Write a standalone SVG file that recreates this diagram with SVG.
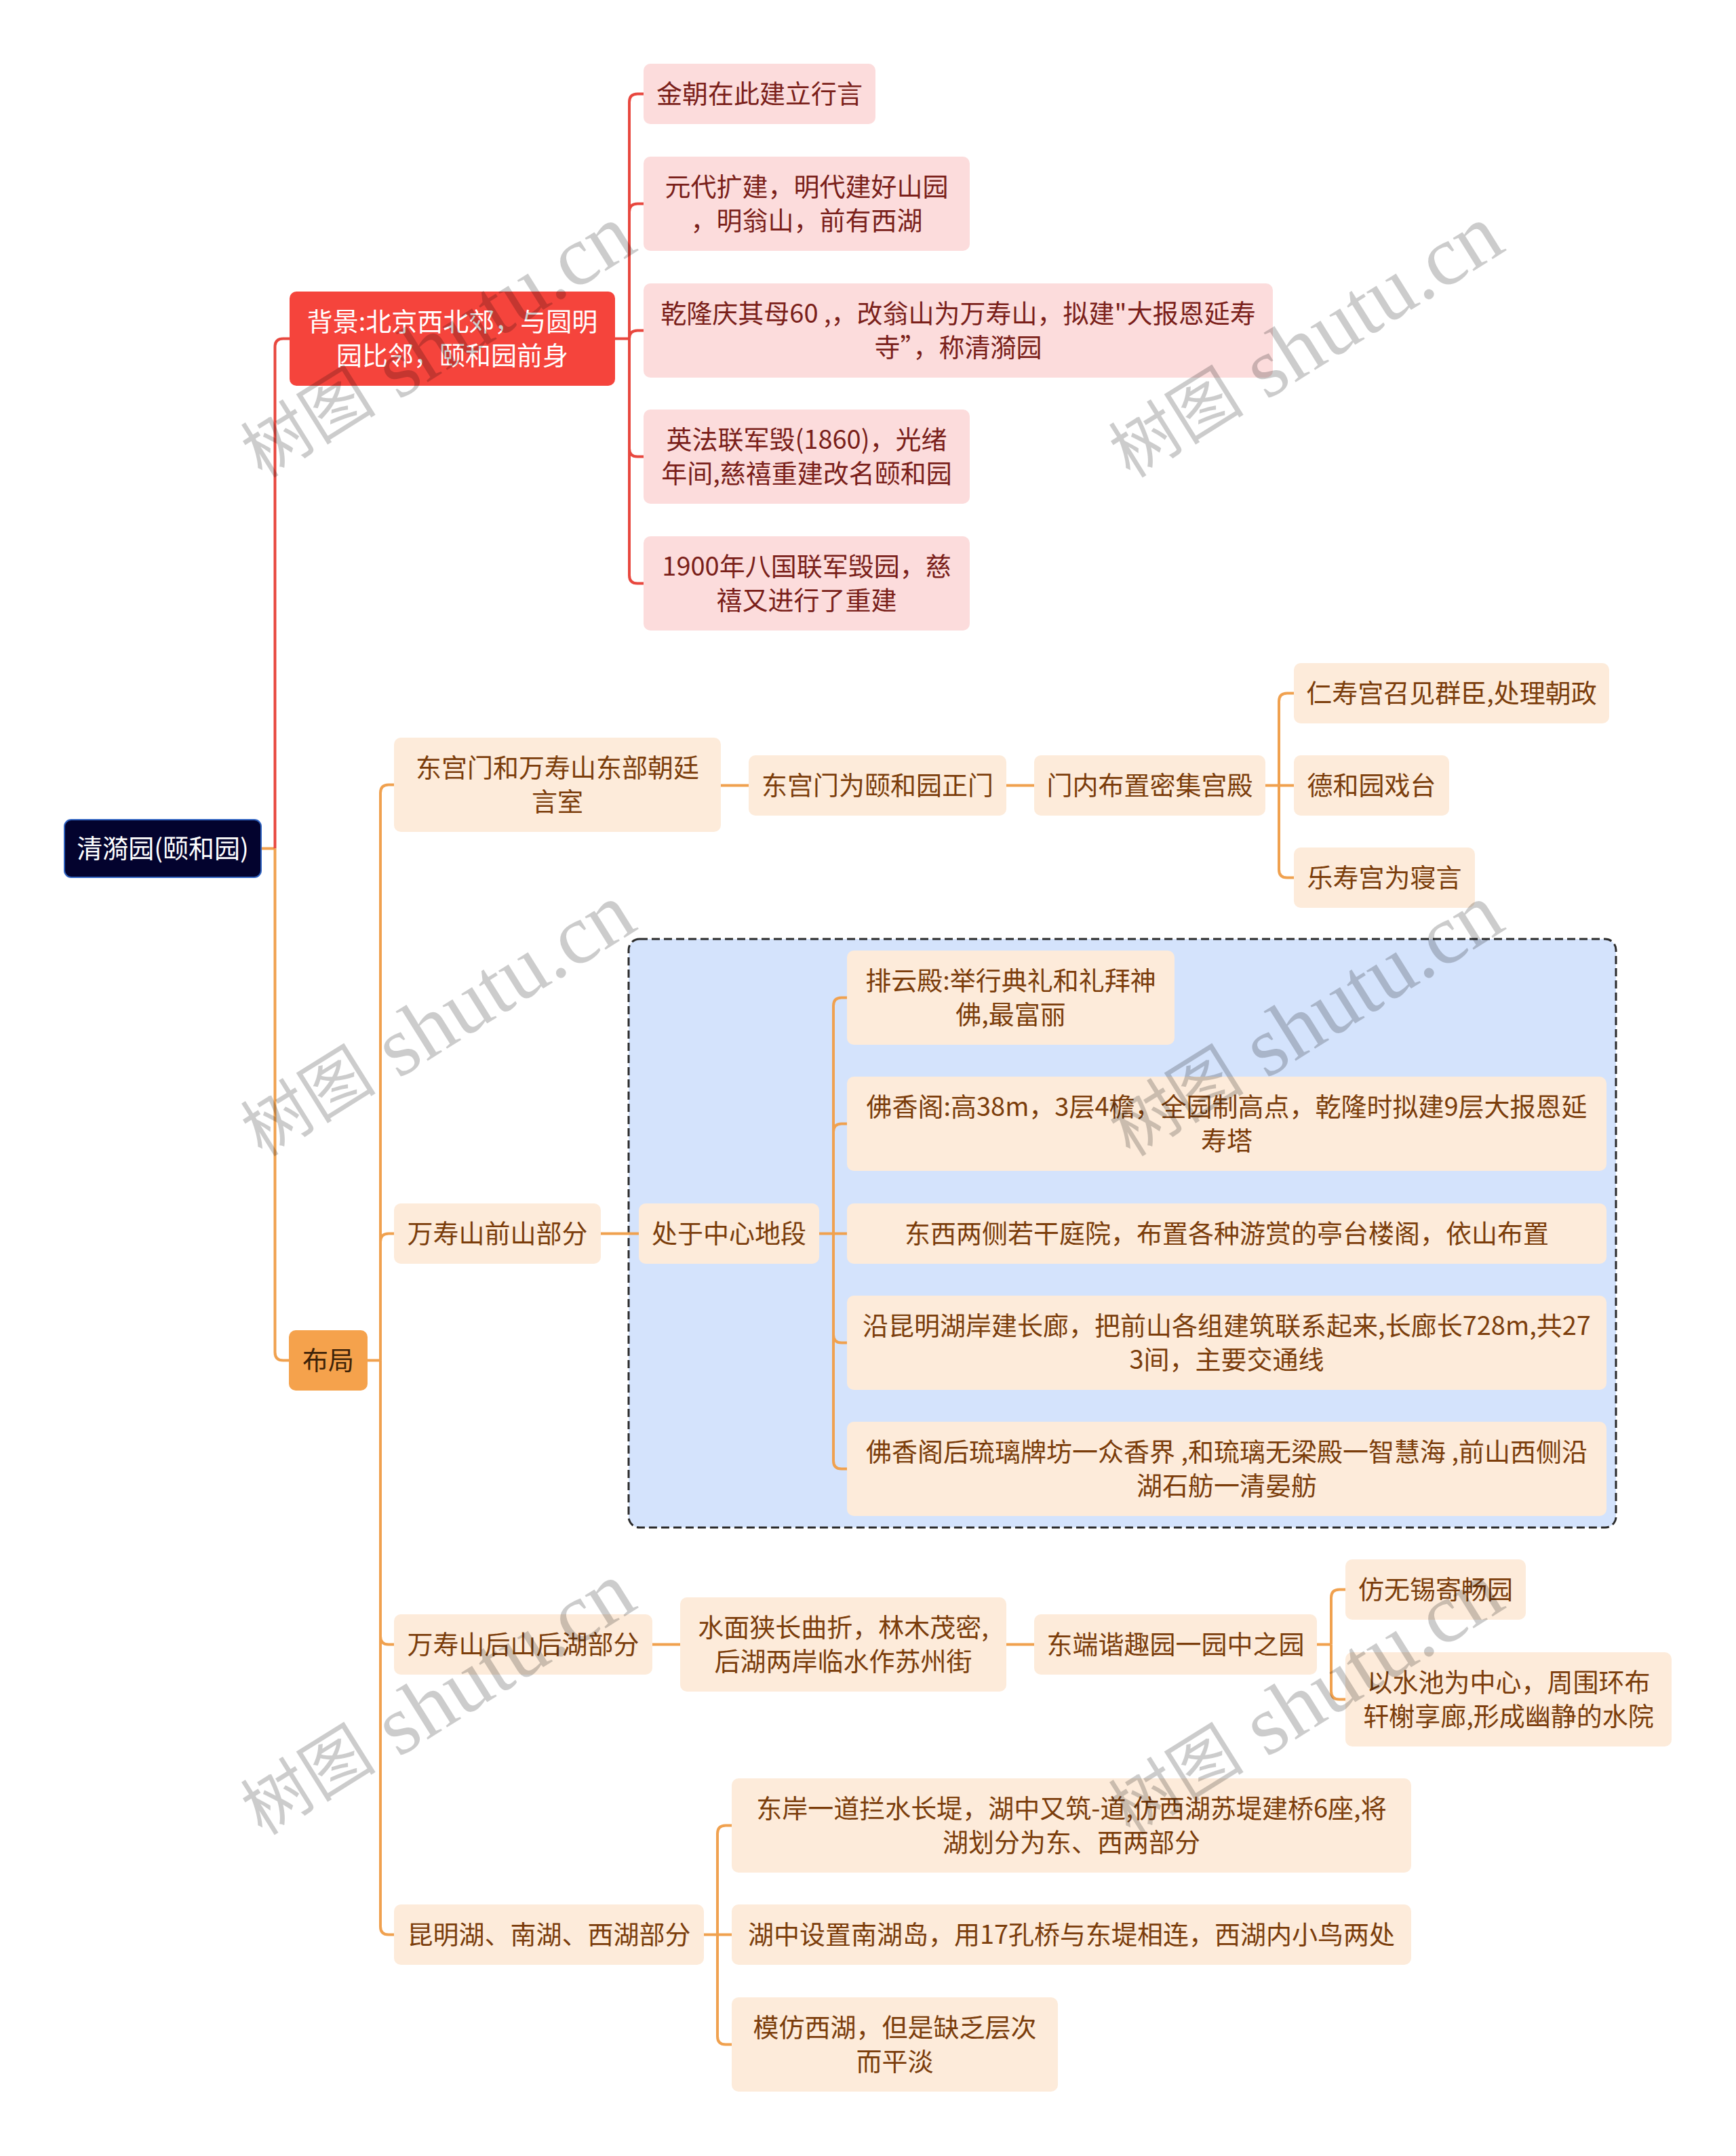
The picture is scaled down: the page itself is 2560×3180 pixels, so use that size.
<svg xmlns="http://www.w3.org/2000/svg" width="2560" height="3180" viewBox="0 0 2560 3180">
<style>
.t{font-family:"Noto Sans CJK SC","Noto Sans",sans-serif;font-size:38px;text-anchor:middle;dominant-baseline:central;transform:translateY(-3px)}
.root rect{fill:#03032e;stroke:#2f62c0;stroke-width:2}
.root text{fill:#ffffff}
.red rect{fill:#f5443c}
.red text{fill:#ffffff}
.org rect{fill:#f5a24c}
.org text{fill:#3d2208}
.pk rect{fill:#fcdcdc}
.pk text{fill:#7a1f1a}
.pc rect{fill:#fdebda}
.pc text{fill:#7b3d0b}
.cr{fill:none;stroke:#e8473e;stroke-width:4}
.co{fill:none;stroke:#f0a14f;stroke-width:4}
.wm{font-family:"Liberation Serif","Noto Sans CJK SC",serif;fill:#000;fill-opacity:0.2;text-anchor:middle;dominant-baseline:central}
</style>
<rect width="2560" height="3180" fill="#ffffff"/>

<g id="boundary">
<rect x="927" y="1385" width="1456" height="868" rx="16" fill="#d4e3fc" stroke="#2b2b2b" stroke-width="3" stroke-dasharray="12 6"/>
</g>

<g id="connectors">
<path class="co" d="M385,1251.5 H405.5"/>
<path class="cr" d="M405.5,1251.5 V511.5 Q405.5,499.5 417.5,499.5 H427"/>
<path class="co" d="M405.5,1251.5 V1994.5 Q405.5,2006.5 417.5,2006.5 H426"/>

<path class="cr" d="M907,499.5 H928"/>
<path class="cr" d="M928,499.5 V150.5 Q928,138.5 940,138.5 H949"/>
<path class="cr" d="M928,499.5 V312.5 Q928,300.5 940,300.5 H949"/>
<path class="cr" d="M928,499.5 Q928,487.5 940,487.5 H949"/>
<path class="cr" d="M928,499.5 V661.5 Q928,673.5 940,673.5 H949"/>
<path class="cr" d="M928,499.5 V848.5 Q928,860.5 940,860.5 H949"/>

<path class="co" d="M542,2006.5 H561"/>
<path class="co" d="M561,2006.5 V1169.5 Q561,1157.5 573,1157.5 H581"/>
<path class="co" d="M561,2006.5 V1831.5 Q561,1819.5 573,1819.5 H581"/>
<path class="co" d="M561,2006.5 V2413.5 Q561,2425.5 573,2425.5 H581"/>
<path class="co" d="M561,2006.5 V2841.5 Q561,2853.5 573,2853.5 H581"/>

<path class="co" d="M1063,1158.5 H1104"/>
<path class="co" d="M1484,1158.5 H1525"/>
<path class="co" d="M1866,1158.5 H1908"/>
<path class="co" d="M1886,1158.5 V1034.5 Q1886,1022.5 1898,1022.5 H1908"/>
<path class="co" d="M1886,1158.5 V1282.5 Q1886,1294.5 1898,1294.5 H1908"/>

<path class="co" d="M886,1819.5 H942"/>
<path class="co" d="M1208,1819.5 H1249"/>
<path class="co" d="M1229,1819.5 V1483.5 Q1229,1471.5 1241,1471.5 H1249"/>
<path class="co" d="M1229,1819.5 V1669.5 Q1229,1657.5 1241,1657.5 H1249"/>
<path class="co" d="M1229,1819.5 V1968.5 Q1229,1980.5 1241,1980.5 H1249"/>
<path class="co" d="M1229,1819.5 V2154.5 Q1229,2166.5 1241,2166.5 H1249"/>

<path class="co" d="M962,2425.5 H1003"/>
<path class="co" d="M1484,2425.5 H1525"/>
<path class="co" d="M1942,2425.5 H1963"/>
<path class="co" d="M1963,2425.5 V2356.5 Q1963,2344.5 1975,2344.5 H1984"/>
<path class="co" d="M1963,2425.5 V2494.5 Q1963,2506.5 1975,2506.5 H1984"/>

<path class="co" d="M1038,2853.5 H1079"/>
<path class="co" d="M1058,2853.5 V2704.5 Q1058,2692.5 1070,2692.5 H1079"/>
<path class="co" d="M1058,2853.5 V3003.5 Q1058,3015.5 1070,3015.5 H1079"/>
</g>

<g id="root" class="root"><rect x="95" y="1209" width="290" height="85" rx="10"/><text class="t" x="240" y="1251.5">清漪园(颐和园)</text></g>

<g id="bg" class="red"><rect x="427" y="430" width="480" height="139" rx="10"/><text class="t" x="667" y="474.5">背景:北京西北郊，与圆明</text><text class="t" x="667" y="524.5">园比邻，颐和园前身</text></g>
<g id="layout" class="org"><rect x="426" y="1962" width="116" height="89" rx="10"/><text class="t" x="484" y="2006.5">布局</text></g>

<g id="bg1" class="pk"><rect x="949" y="94" width="342" height="89" rx="10"/><text class="t" x="1120" y="138.5">金朝在此建立行言</text></g>
<g id="bg2" class="pk"><rect x="949" y="231" width="481" height="139" rx="10"/><text class="t" x="1189.5" y="275.5">元代扩建，明代建好山园</text><text class="t" x="1189.5" y="325.5">，明翁山，前有西湖</text></g>
<g id="bg3" class="pk"><rect x="949" y="418" width="928" height="139" rx="10"/><text class="t" x="1413" y="462.5">乾隆庆其母60 ,，改翁山为万寿山，拟建"大报恩延寿</text><text class="t" x="1413" y="512.5">寺”，称清漪园</text></g>
<g id="bg4" class="pk"><rect x="949" y="604" width="481" height="139" rx="10"/><text class="t" x="1189.5" y="648.5">英法联军毁(1860)，光绪</text><text class="t" x="1189.5" y="698.5">年间,慈禧重建改名颐和园</text></g>
<g id="bg5" class="pk"><rect x="949" y="791" width="481" height="139" rx="10"/><text class="t" x="1189.5" y="835.5">1900年八国联军毁园，慈</text><text class="t" x="1189.5" y="885.5">禧又进行了重建</text></g>

<g id="o1" class="pc"><rect x="581" y="1088" width="482" height="139" rx="10"/><text class="t" x="822" y="1132.5">东宫门和万寿山东部朝廷</text><text class="t" x="822" y="1182.5">言室</text></g>
<g id="o1a" class="pc"><rect x="1104" y="1114" width="380" height="89" rx="10"/><text class="t" x="1294" y="1158.5">东宫门为颐和园正门</text></g>
<g id="o1b" class="pc"><rect x="1525" y="1114" width="341" height="89" rx="10"/><text class="t" x="1695.5" y="1158.5">门内布置密集宫殿</text></g>
<g id="o1b1" class="pc"><rect x="1908" y="978" width="465" height="89" rx="10"/><text class="t" x="2140.5" y="1022.5">仁寿宫召见群臣,处理朝政</text></g>
<g id="o1b2" class="pc"><rect x="1908" y="1114" width="229" height="89" rx="10"/><text class="t" x="2022.5" y="1158.5">德和园戏台</text></g>
<g id="o1b3" class="pc"><rect x="1908" y="1250" width="267" height="89" rx="10"/><text class="t" x="2041.5" y="1294.5">乐寿宫为寝言</text></g>

<g id="o2" class="pc"><rect x="581" y="1775" width="305" height="89" rx="10"/><text class="t" x="733.5" y="1819.5">万寿山前山部分</text></g>
<g id="o2a" class="pc"><rect x="942" y="1775" width="266" height="89" rx="10"/><text class="t" x="1075" y="1819.5">处于中心地段</text></g>
<g id="o2a1" class="pc"><rect x="1249" y="1402" width="483" height="139" rx="10"/><text class="t" x="1490.5" y="1446.5">排云殿:举行典礼和礼拜神</text><text class="t" x="1490.5" y="1496.5">佛,最富丽</text></g>
<g id="o2a2" class="pc"><rect x="1249" y="1588" width="1120" height="139" rx="10"/><text class="t" x="1809" y="1632.5">佛香阁:高38m，3层4檐，全园制高点，乾隆时拟建9层大报恩延</text><text class="t" x="1809" y="1682.5">寿塔</text></g>
<g id="o2a3" class="pc"><rect x="1249" y="1775" width="1120" height="89" rx="10"/><text class="t" x="1809" y="1819.5">东西两侧若干庭院，布置各种游赏的亭台楼阁，依山布置</text></g>
<g id="o2a4" class="pc"><rect x="1249" y="1911" width="1120" height="139" rx="10"/><text class="t" x="1809" y="1955.5">沿昆明湖岸建长廊，把前山各组建筑联系起来,长廊长728m,共27</text><text class="t" x="1809" y="2005.5">3间，主要交通线</text></g>
<g id="o2a5" class="pc"><rect x="1249" y="2097" width="1120" height="139" rx="10"/><text class="t" x="1809" y="2141.5">佛香阁后琉璃牌坊一众香界 ,和琉璃无梁殿一智慧海 ,前山西侧沿</text><text class="t" x="1809" y="2191.5">湖石舫一清晏舫</text></g>

<g id="o3" class="pc"><rect x="581" y="2381" width="381" height="89" rx="10"/><text class="t" x="771.5" y="2425.5">万寿山后山后湖部分</text></g>
<g id="o3a" class="pc"><rect x="1003" y="2356" width="481" height="139" rx="10"/><text class="t" x="1243.5" y="2400.5">水面狭长曲折，林木茂密,</text><text class="t" x="1243.5" y="2450.5">后湖两岸临水作苏州街</text></g>
<g id="o3b" class="pc"><rect x="1525" y="2381" width="417" height="89" rx="10"/><text class="t" x="1733.5" y="2425.5">东端谐趣园一园中之园</text></g>
<g id="o3b1" class="pc"><rect x="1984" y="2300" width="266" height="89" rx="10"/><text class="t" x="2117" y="2344.5">仿无锡寄畅园</text></g>
<g id="o3b2" class="pc"><rect x="1984" y="2437" width="481" height="139" rx="10"/><text class="t" x="2224.5" y="2481.5">以水池为中心，周围环布</text><text class="t" x="2224.5" y="2531.5">轩榭享廊,形成幽静的水院</text></g>

<g id="o4" class="pc"><rect x="581" y="2809" width="457" height="89" rx="10"/><text class="t" x="809.5" y="2853.5">昆明湖、南湖、西湖部分</text></g>
<g id="o4a" class="pc"><rect x="1079" y="2623" width="1002" height="139" rx="10"/><text class="t" x="1580" y="2667.5">东岸一道拦水长堤，湖中又筑-道,仿西湖苏堤建桥6座,将</text><text class="t" x="1580" y="2717.5">湖划分为东、西两部分</text></g>
<g id="o4b" class="pc"><rect x="1079" y="2809" width="1002" height="89" rx="10"/><text class="t" x="1580" y="2853.5">湖中设置南湖岛，用17孔桥与东堤相连，西湖内小鸟两处</text></g>
<g id="o4c" class="pc"><rect x="1079" y="2946" width="481" height="139" rx="10"/><text class="t" x="1319.5" y="2990.5">模仿西湖，但是缺乏层次</text><text class="t" x="1319.5" y="3040.5">而平淡</text></g>

<g id="watermarks">
<text class="wm" transform="translate(645,505) rotate(-32)"><tspan font-size="100">树图</tspan><tspan font-size="125"> shutu.cn</tspan></text>
<text class="wm" transform="translate(1925,505) rotate(-32)"><tspan font-size="100">树图</tspan><tspan font-size="125"> shutu.cn</tspan></text>
<text class="wm" transform="translate(645,1506) rotate(-32)"><tspan font-size="100">树图</tspan><tspan font-size="125"> shutu.cn</tspan></text>
<text class="wm" transform="translate(1925,1506) rotate(-32)"><tspan font-size="100">树图</tspan><tspan font-size="125"> shutu.cn</tspan></text>
<text class="wm" transform="translate(645,2507) rotate(-32)"><tspan font-size="100">树图</tspan><tspan font-size="125"> shutu.cn</tspan></text>
<text class="wm" transform="translate(1925,2507) rotate(-32)"><tspan font-size="100">树图</tspan><tspan font-size="125"> shutu.cn</tspan></text>
</g>
</svg>
